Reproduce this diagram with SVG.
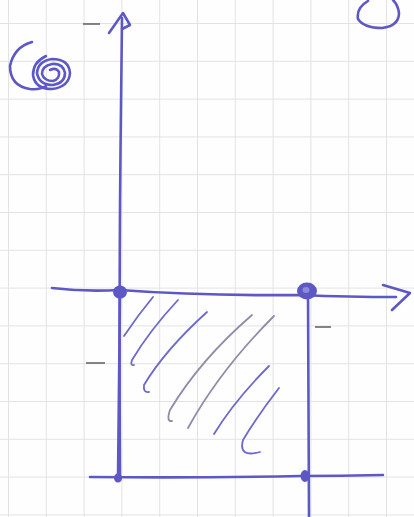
<svg xmlns="http://www.w3.org/2000/svg" width="414" height="517" viewBox="0 0 414 517">
<defs>
<pattern id="grid" x="8" y="23" width="37.8" height="37.8" patternUnits="userSpaceOnUse">
<path d="M0 0V37.8M0 0H37.8" fill="none" stroke="#e3e3e3" stroke-width="2"/>
</pattern>
</defs>
<style>
.pen{fill:none;stroke:#5e58c6;stroke-width:2.6;stroke-linecap:round;stroke-linejoin:round}
.thin{fill:none;stroke:#6d68cc;stroke-width:1.8;stroke-linecap:round;stroke-linejoin:round}
.pencil{fill:none;stroke:#8e8ca8;stroke-width:1.8;stroke-linecap:round}
.tick{fill:none;stroke:#666;stroke-width:1.6}
.dot{fill:#5e58c6;stroke:#5e58c6;stroke-width:2}
</style>
<rect width="414" height="517" fill="#fefefe"/>
<rect width="414" height="517" fill="url(#grid)"/>
<g id="axes">
<path class="pen" d="M120 480 Q119 300 120.5 150 Q121.5 60 122 18"/>
<path class="pen" d="M109 33 L123 13 L130 25 L122 29"/>
<path class="pen" d="M52 288 Q85 292 120 290 Q200 296 300 295 Q350 297 396 297"/>
<path class="pen" d="M383 285 L410 293 L392 310"/>
</g>
<g id="rectangle">
<path class="pen" d="M120 292 Q119 400 118 478"/>
<path class="pen" d="M308 293 Q308 400 309 517"/>
<path class="pen" d="M90 477 Q200 478 300 476 Q340 476 383 475"/>
</g>
<g id="points">
<ellipse class="dot" cx="120" cy="292" rx="6" ry="5.5"/>
<ellipse cx="307" cy="291" rx="9" ry="7.5" fill="#5e58c6" stroke="#5e58c6" stroke-width="2"/>
<ellipse cx="306" cy="290" rx="3.5" ry="3" fill="#8f8ad8"/>
<ellipse class="dot" cx="118" cy="478" rx="3" ry="3.5"/>
<ellipse class="dot" cx="305" cy="476" rx="3.5" ry="5"/>
</g>
<g id="ticks">
<path class="tick" d="M83 24H100"/>
<path class="tick" d="M86 363H105"/>
<path class="tick" d="M315 327H331"/>
</g>
<g id="hatching">
<path class="thin" d="M153 297 Q138 315 124 336"/>
<path class="thin" d="M178 300 Q150 330 132 360 Q130 366 134 365"/>
<path class="thin" d="M207 312 Q165 350 144 385 Q143 393 149 392"/>
<path class="pencil" d="M252 315 Q200 360 170 410 Q166 422 172 421"/>
<path class="pencil" d="M274 316 Q220 370 188 428"/>
<path class="thin" d="M269 366 Q235 400 214 434"/>
<path class="thin" d="M279 388 Q258 415 243 440 Q238 458 260 452"/>
</g>
<g id="marks">
<path class="pen" d="M32 42 Q14 47 10 66 Q10 86 30 89 Q40 90 46 86"/>
<path class="pen" d="M46 56 Q33 62 33 75 Q35 89 52 89 Q69 87 70 73 Q69 59 52 59 Q38 61 37 73 Q39 85 53 85 Q65 83 65 73 Q63 63 52 64 Q42 66 42 74 Q44 81 53 81 Q60 79 59 72 Q56 67 50 70"/>
<path class="pen" d="M368 1 Q356 8 358 19 Q364 28 382 28 Q399 26 399 13 Q398 5 393 0"/>
</g>
</svg>
